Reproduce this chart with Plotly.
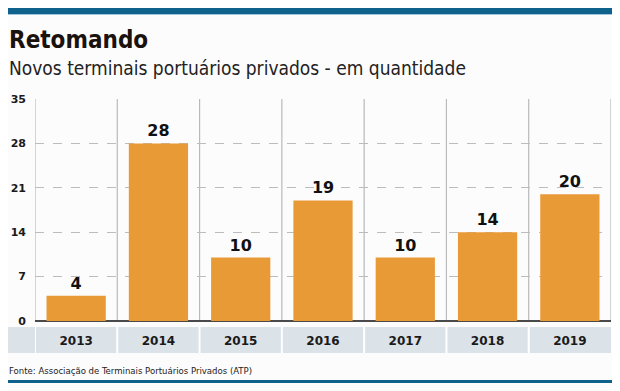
import plotly.graph_objects as go

years = ["2013", "2014", "2015", "2016", "2017", "2018", "2019"]
values = [4, 28, 10, 19, 10, 14, 20]
y_ticks = [0, 7, 14, 21, 28, 35]

title = "Retomando"
subtitle = "Novos terminais portuários privados - em quantidade"
source = "Fonte: Associação de Terminais Portuários Privados (ATP)"

COND = "Liberation Sans Narrow, DejaVu Sans Condensed, Arial Narrow, sans-serif"
BAR = "#E89A37"
BLUE = "#0E628C"

W, H = 620, 391
OFF = 8  # page body margin: screen px = figure px + OFF


def px(sx):
    return sx - OFF


# plot area in screen px
PL, PR, PT, PB = 35, 611, 99, 321
L = px(PL)
R = W - px(PR)
T = px(PT)
B = H - px(PB)
PW = W - L - R
PH = H - T - B


def xp(sx):
    return (px(sx) - L) / PW


def yp(sy):
    return (H - B - px(sy)) / PH


x = list(range(len(years)))
fig = go.Figure(go.Bar(
    x=x, y=values, marker_color=BAR, marker_line_width=0, width=0.72,
    text=[str(v) for v in values], textposition="outside", cliponaxis=False,
    textfont=dict(family="DejaVu Sans, Arial, sans-serif", size=16, color="#111111", weight="bold"),
))

shapes = []
for i in range(len(years) + 1):
    shapes.append(dict(type="line", xref="x", yref="y", x0=i - 0.5, x1=i - 0.5, y0=0, y1=35,
                       line=dict(color="#b9b9b9", width=1.2), layer="below"))
# gray label band
shapes.append(dict(type="rect", xref="paper", yref="paper", x0=xp(8), x1=xp(611),
                   y0=yp(353), y1=yp(327), fillcolor="#dbe2e8", line_width=0, layer="below"))
for i in range(len(years)):
    shapes.append(dict(type="line", xref="x", yref="paper", x0=i - 0.5, x1=i - 0.5,
                       y0=yp(353), y1=yp(327), line=dict(color="#ffffff", width=2), layer="above"))
# top blue bar
shapes.append(dict(type="rect", xref="paper", yref="paper", x0=xp(8), x1=xp(612),
                   y0=yp(14), y1=yp(7), fillcolor=BLUE, line_width=0))
shapes.append(dict(type="line", xref="paper", yref="paper", x0=xp(8), x1=xp(612),
                   y0=yp(14.5), y1=yp(14.5), line=dict(color="#9fc6da", width=1)))
# bottom blue line
shapes.append(dict(type="rect", xref="paper", yref="paper", x0=xp(8), x1=xp(612),
                   y0=yp(383), y1=yp(380), fillcolor=BLUE, line_width=0))

annotations = [
    dict(text=f"<b>{title}</b>", x=xp(7), y=yp(40), font=dict(family=COND, size=24, color="#1a120c")),
    dict(text=subtitle, x=xp(7), y=yp(68), font=dict(family=COND, size=19, color="#222222")),
    dict(text=source, x=xp(7), y=yp(370), font=dict(family=COND, size=9.5, color="#222222")),
]
for a in annotations:
    a.update(xref="paper", yref="paper", showarrow=False, xanchor="left", yanchor="middle")

fig.update_layout(
    width=W, height=H,
    margin=dict(l=L, r=R, t=T, b=B),
    paper_bgcolor="#fdfcfd", plot_bgcolor="#fdfcfd",
    showlegend=False,
    shapes=shapes, annotations=annotations,
    xaxis=dict(tickvals=x, ticktext=years, range=[-0.5, len(years) - 0.5], automargin=False,
               showgrid=False, zeroline=False, showline=False,
               ticks="outside", ticklen=9, tickcolor="rgba(0,0,0,0)",
               tickfont=dict(family="DejaVu Sans, Arial, sans-serif", size=12, color="#1a1a1a", weight="bold")),
    yaxis=dict(range=[0, 35], tickvals=y_ticks, showgrid=True, griddash="dash", automargin=False,
               gridcolor="#bcbcbc", gridwidth=1.2,
               zeroline=True, zerolinecolor="#4a4a4a", zerolinewidth=1.5,
               showline=False, ticks="", ticklabelstandoff=8,
               tickfont=dict(family="DejaVu Sans, Arial, sans-serif", size=11, color="#1a1a1a", weight="bold")),
)

fig.write_html("out.html")
